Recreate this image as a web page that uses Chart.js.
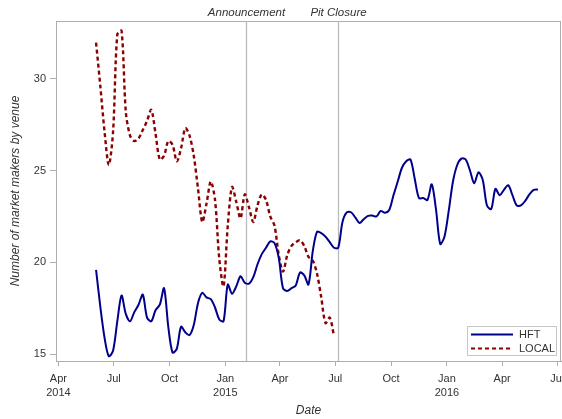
<!DOCTYPE html>
<html>
<head>
<meta charset="utf-8">
<script src="https://cdn.jsdelivr.net/npm/chart.js@4/dist/chart.umd.min.js"></script>
<style>
  html, body { margin: 0; padding: 0; background: #fff; }
  canvas { display: block; }
</style>
</head>
<body>
<canvas id="chart" width="562" height="419"></canvas>
<script>
// Weekly observation dates (Mondays)
const weekDates = [
  '2014-06-02','2014-06-09','2014-06-16','2014-06-23','2014-06-30',
  '2014-07-07','2014-07-14','2014-07-21','2014-07-28',
  '2014-08-04','2014-08-11','2014-08-18','2014-08-25',
  '2014-09-01','2014-09-08','2014-09-15','2014-09-22','2014-09-29',
  '2014-10-06','2014-10-13','2014-10-20','2014-10-27',
  '2014-11-03','2014-11-10','2014-11-17','2014-11-24',
  '2014-12-01','2014-12-08','2014-12-15','2014-12-22','2014-12-29',
  '2015-01-05','2015-01-12','2015-01-19','2015-01-26',
  '2015-02-02','2015-02-09','2015-02-16','2015-02-23',
  '2015-03-02','2015-03-09','2015-03-16','2015-03-23','2015-03-30',
  '2015-04-06','2015-04-13','2015-04-20','2015-04-27',
  '2015-05-04','2015-05-11','2015-05-18','2015-05-25',
  '2015-06-01','2015-06-08','2015-06-15','2015-06-22','2015-06-29',
  '2015-07-06','2015-07-13','2015-07-20','2015-07-27',
  '2015-08-03','2015-08-10','2015-08-17','2015-08-24','2015-08-31',
  '2015-09-07','2015-09-14','2015-09-21','2015-09-28',
  '2015-10-05','2015-10-12','2015-10-19','2015-10-26',
  '2015-11-02','2015-11-09','2015-11-16','2015-11-23','2015-11-30',
  '2015-12-07','2015-12-14','2015-12-21','2015-12-28',
  '2016-01-04','2016-01-11','2016-01-18','2016-01-25',
  '2016-02-01','2016-02-08','2016-02-15','2016-02-22','2016-02-29',
  '2016-03-07','2016-03-14','2016-03-21','2016-03-28',
  '2016-04-04','2016-04-11','2016-04-18','2016-04-25',
  '2016-05-02','2016-05-09','2016-05-16','2016-05-23','2016-05-30'
];

// Number of HFT market makers per week
const hftCounts = [
  19.6, 17.6, 15.9, 14.9, 15.2,
  16.8, 18.2, 17.2, 16.8,
  17.3, 17.7, 18.25, 17.0,
  16.8, 17.4, 17.7, 18.6, 16.5,
  15.1, 15.3, 16.5, 16.2,
  16.05, 16.6, 17.8, 18.35,
  18.1, 18.0, 17.55, 16.9, 16.8,
  18.8, 18.3, 18.7, 19.25,
  18.9, 18.85, 19.2, 19.9,
  20.45, 20.8, 21.15, 21.05, 20.25,
  18.6, 18.45, 18.6, 18.75,
  19.45, 19.3, 18.8, 20.6,
  21.66, 21.6, 21.4, 21.1, 20.8,
  20.8, 22.2, 22.72, 22.73,
  22.45, 22.15, 22.35, 22.53, 22.55,
  22.5, 22.8, 22.7, 22.85,
  23.65, 24.4, 25.15, 25.5,
  25.6, 24.55, 23.5, 23.5, 23.4,
  24.25, 22.9, 21.0, 21.4,
  22.8, 24.4, 25.3, 25.65,
  25.6, 25.0, 24.3, 24.9, 24.5,
  23.1, 22.9, 24.0, 23.66,
  23.95, 24.2, 23.66, 23.1,
  23.1, 23.35, 23.7, 23.95, 23.97
];

// Number of LOCAL (floor) market makers per week, until the pits closed
const localCounts = [
  31.95, 29.6, 27.1, 25.3, 27.1,
  32.4, 32.6, 28.2, 26.9,
  26.6, 26.75, 27.2, 27.7,
  28.3, 27.0, 25.6, 25.8, 26.6,
  26.4, 25.5, 26.2, 27.3,
  26.9, 25.8, 24.0, 22.2,
  23.2, 24.4, 23.4, 20.2, 18.7,
  22.0, 24.1, 23.3, 22.4,
  23.7, 23.0, 22.2, 23.1,
  23.7, 23.4, 22.5, 22.0, 20.4,
  19.5, 20.4, 20.9, 21.1,
  21.2, 20.9, 20.3, 20.1,
  19.4, 18.1, 16.7, 17.0, 16.0
];

const seriesNames = ['HFT', 'LOCAL'];

// Quarterly date ticks and their labels
const quarterTicks = ['2014-04-01','2014-07-01','2014-10-01','2015-01-01','2015-04-01',
                      '2015-07-01','2015-10-01','2016-01-01','2016-04-01','2016-07-01'];
const quarterLabels = [['Apr','2014'],['Jul'],['Oct'],['Jan','2015'],['Apr'],
                       ['Jul'],['Oct'],['Jan','2016'],['Apr'],['Jul']];
const countTicks = [15, 20, 25, 30];

// Market events marked with reference lines
const eventDates = ['2015-02-04', '2015-07-06'];
const eventLabels = ['Announcement', 'Pit Closure'];

const dateRange = ['2014-03-28', '2016-07-07'];
const countRange = [14.64, 33.13];

// Dates are placed on a linear axis measured in days
const toDay = s => Date.UTC(+s.slice(0, 4), +s.slice(5, 7) - 1, +s.slice(8, 10)) / 864e5;

const FONT = "'Liberation Sans', Arial, sans-serif";
const AXIS_GRAY = '#a9aeb3';
const TEXT = '#333333';

const hftPoints = hftCounts.map((v, i) => ({ x: toDay(weekDates[i]), y: v }));
const localPoints = localCounts.map((v, i) => ({ x: toDay(weekDates[i]), y: v }));

const frameAndEvents = {
  id: 'frameAndEvents',
  beforeDatasetsDraw(chart) {
    const { ctx, chartArea: a, scales: { x } } = chart;
    ctx.save();
    // top and right edges of the plot frame
    ctx.strokeStyle = AXIS_GRAY;
    ctx.lineWidth = 1;
    ctx.beginPath();
    ctx.moveTo(a.left, a.top + 0.5);
    ctx.lineTo(a.right, a.top + 0.5);
    ctx.moveTo(a.right - 0.5, a.top);
    ctx.lineTo(a.right - 0.5, a.bottom);
    ctx.stroke();
    // event reference lines with their captions above the frame
    ctx.strokeStyle = '#b9bcbf';
    ctx.lineWidth = 1.3;
    ctx.fillStyle = TEXT;
    ctx.font = 'italic 11.5px ' + FONT;
    ctx.textAlign = 'center';
    ctx.textBaseline = 'middle';
    eventDates.forEach((d, i) => {
      const px = Math.round(x.getPixelForValue(toDay(d))) + 0.5;
      ctx.beginPath();
      ctx.moveTo(px, a.top);
      ctx.lineTo(px, a.bottom);
      ctx.stroke();
      ctx.fillText(eventLabels[i], px, a.top - 8);
    });
    ctx.restore();
  },
  afterDraw(chart) {
    // legend box in the lower right corner of the plot
    const { ctx, chartArea: a } = chart;
    const w = 90, h = 30;
    const bx = a.right - 4 - w, by = a.bottom - 5 - h;
    ctx.save();
    ctx.fillStyle = '#fff';
    ctx.fillRect(bx, by, w, h);
    ctx.strokeStyle = '#c4c7ca';
    ctx.lineWidth = 1;
    ctx.strokeRect(bx + 0.5, by + 0.5, w - 1, h - 1);
    ctx.font = '11px ' + FONT;
    ctx.textAlign = 'left';
    ctx.textBaseline = 'middle';
    chart.data.datasets.forEach((ds, i) => {
      const cy = by + 8.5 + i * 14;
      ctx.strokeStyle = ds.borderColor;
      ctx.lineWidth = 2;
      ctx.setLineDash(ds.borderDash || []);
      ctx.beginPath();
      ctx.moveTo(bx + 4, cy);
      ctx.lineTo(bx + 46, cy);
      ctx.stroke();
      ctx.setLineDash([]);
      ctx.fillStyle = TEXT;
      ctx.fillText(ds.label, bx + 52, cy + 0.5);
    });
    ctx.restore();
  }
};

new Chart(document.getElementById('chart'), {
  type: 'line',
  data: {
    datasets: [
      {
        label: seriesNames[0],
        data: hftPoints,
        borderColor: '#00008b',
        borderWidth: 2,
        pointRadius: 0,
        tension: 0.3,
        fill: false
      },
      {
        label: seriesNames[1],
        data: localPoints,
        borderColor: '#8b0000',
        borderWidth: 2.4,
        borderDash: [4, 3],
        pointRadius: 0,
        tension: 0.3,
        fill: false
      }
    ]
  },
  options: {
    responsive: false,
    devicePixelRatio: 1,
    animation: false,
    layout: { padding: { top: 21, right: 1, left: 0, bottom: 0 } },
    plugins: {
      legend: { display: false },
      tooltip: { enabled: false }
    },
    scales: {
      x: {
        type: 'linear',
        min: toDay(dateRange[0]),
        max: toDay(dateRange[1]),
        afterFit: s => { s.height = 58; s.paddingLeft = 0; s.paddingRight = 0; },
        afterBuildTicks: s => { s.ticks = quarterTicks.map(d => ({ value: toDay(d) })); },
        border: { display: true, color: AXIS_GRAY, width: 1 },
        grid: { drawOnChartArea: false, drawTicks: true, tickLength: 5, color: AXIS_GRAY },
        ticks: {
          autoSkip: false,
          maxRotation: 0,
          padding: 6,
          color: TEXT,
          font: { family: FONT, size: 11, lineHeight: 1.25 },
          callback: (v, i) => quarterLabels[i]
        },
        title: {
          display: true,
          text: 'Date',
          color: TEXT,
          font: { family: FONT, size: 12, style: 'italic', lineHeight: 1.2 },
          padding: { top: 0, bottom: 1 }
        }
      },
      y: {
        min: countRange[0],
        max: countRange[1],
        afterFit: s => { s.width = 56; s.paddingTop = 0; s.paddingBottom = 0; },
        afterBuildTicks: s => { s.ticks = countTicks.map(v => ({ value: v })); },
        border: { display: true, color: AXIS_GRAY, width: 1 },
        grid: { drawOnChartArea: false, drawTicks: true, tickLength: 6, color: AXIS_GRAY },
        ticks: {
          padding: 4,
          color: TEXT,
          font: { family: FONT, size: 11 }
        },
        title: {
          display: true,
          text: 'Number of market makers by venue',
          color: TEXT,
          font: { family: FONT, size: 12, style: 'italic', lineHeight: 1.2 },
          padding: { top: 8, bottom: 0 }
        }
      }
    }
  },
  plugins: [frameAndEvents]
});
</script>
</body>
</html>
